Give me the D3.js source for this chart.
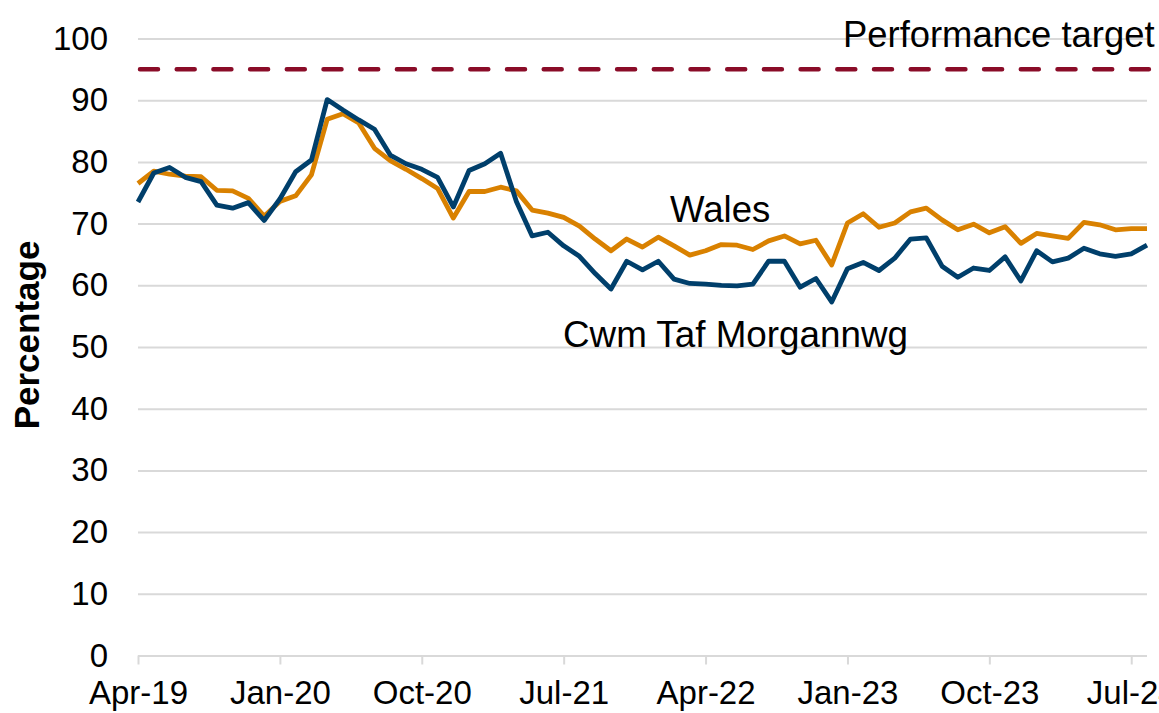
<!DOCTYPE html>
<html>
<head>
<meta charset="utf-8">
<script src="https://cdn.jsdelivr.net/npm/d3@7"></script>
<style>
  html, body { margin: 0; padding: 0; background: #fff; overflow: hidden; }
  svg { display: block; }
  text { font-family: "Liberation Sans", Arial, sans-serif; fill: #000; }
</style>
</head>
<body>
<svg id="chart" width="1159" height="713"></svg>
<script>
// ---- Data ----
const months = d3.timeMonth.range(new Date(2019, 3, 1), new Date(2024, 8, 1)).map(d3.timeFormat("%b-%y"));
const tickLabels = ["Apr-19", "Jan-20", "Oct-20", "Jul-21", "Apr-22", "Jan-23", "Oct-23", "Jul-24"];
const yTicks = [0, 10, 20, 30, 40, 50, 60, 70, 80, 90, 100];
const target = 95;
const cwmTafMorgannwg = [
  73.5, 78.2, 79.1, 77.5, 76.8, 73.0, 72.5, 73.4, 70.5, 74.0,
  78.4, 80.3, 90.1, 88.4, 86.8, 85.3, 81.1, 79.7, 78.8, 77.5,
  72.7, 78.6, 79.7, 81.4, 73.6, 68.0, 68.6, 66.4, 64.7, 61.9,
  59.4, 63.9, 62.5, 63.9, 61.0, 60.3, 60.2, 60.0, 59.9, 60.2,
  63.9, 63.9, 59.7, 61.1, 57.3, 62.7, 63.7, 62.4, 64.4, 67.5,
  67.7, 63.1, 61.3, 62.8, 62.4, 64.6, 60.7, 65.6, 63.8, 64.4,
  66.0, 65.1, 64.7, 65.1, 66.5
];
const wales = [
  76.5, 78.5, 78.0, 77.7, 77.6, 75.4, 75.3, 74.1, 71.2, 73.6,
  74.5, 77.9, 86.9, 87.8, 86.3, 82.2, 80.2, 78.8, 77.3, 75.7,
  70.9, 75.2, 75.2, 75.9, 75.3, 72.2, 71.7, 71.0, 69.6, 67.5,
  65.6, 67.5, 66.2, 67.8, 66.4, 64.9, 65.6, 66.6, 66.5, 65.8,
  67.2, 68.0, 66.7, 67.3, 63.3, 70.1, 71.6, 69.4, 70.1, 71.9,
  72.5, 70.6, 69.0, 69.9, 68.5, 69.5, 66.8, 68.4, 68.0, 67.6,
  70.2, 69.8, 69.0, 69.2, 69.2
];

// ---- Layout ----
const svg = d3.select("#chart");
const mLeft = 138, mRight = 1147, mTop = 38.5, mBottom = 655.5;

const x = d3.scalePoint().domain(months).range([mLeft, mRight]);
const y = d3.scaleLinear().domain([0, 100]).range([mBottom, mTop]);

// gridlines
const grid = svg.append("g").attr("transform", `translate(${mLeft},0)`)
  .call(d3.axisLeft(y).tickValues(yTicks.filter(v => v > 0)).tickSize(-(mRight - mLeft)).tickFormat(""));
grid.select(".domain").remove();
grid.selectAll("line").attr("stroke", "#d9d9d9").attr("stroke-width", 2);

// y labels
const yAxis = svg.append("g").attr("transform", `translate(${mLeft},0)`)
  .call(d3.axisLeft(y).tickValues(yTicks).tickSize(0).tickPadding(30));
yAxis.select(".domain").remove();
yAxis.selectAll("text").style("font-size", "33px").attr("fill", "#000");

// x axis
const xAxis = svg.append("g").attr("transform", `translate(0,${mBottom})`)
  .call(d3.axisBottom(x).tickValues(tickLabels).tickSize(9).tickPadding(16));
xAxis.select(".domain").attr("stroke", "#d9d9d9").attr("stroke-width", 2)
  .attr("d", `M${mLeft},0.5H${mRight}`);
xAxis.selectAll("line").attr("stroke", "#d9d9d9").attr("stroke-width", 2);
xAxis.selectAll("text").style("font-size", "33px").attr("fill", "#000");

// target line
svg.append("line")
  .attr("x1", mLeft).attr("x2", mRight)
  .attr("y1", y(target)).attr("y2", y(target))
  .attr("stroke", "#8a0c28").attr("stroke-width", 4.5)
  .attr("stroke-dasharray", "18,18.7").attr("stroke-linecap", "round")
  .attr("transform", "translate(2,0)");

// series lines
const line = d3.line().x((d, i) => x(months[i])).y(d => y(d));
svg.append("path").datum(wales).attr("d", line)
  .attr("fill", "none").attr("stroke", "#d98100").attr("stroke-width", 4.8).attr("stroke-linejoin", "round");
svg.append("path").datum(cwmTafMorgannwg).attr("d", line)
  .attr("fill", "none").attr("stroke", "#003f6b").attr("stroke-width", 4.8).attr("stroke-linejoin", "round");

// labels
svg.append("text").attr("x", 843).attr("y", 47).style("font-size", "36.4px").text("Performance target");
svg.append("text").attr("x", 670).attr("y", 222).style("font-size", "36.6px").text("Wales");
svg.append("text").attr("x", 563).attr("y", 347).style("font-size", "36.8px").text("Cwm Taf Morgannwg");

svg.append("text")
  .attr("transform", `translate(39,335) rotate(-90)`)
  .attr("text-anchor", "middle")
  .style("font-size", "35px").style("font-weight", "bold")
  .text("Percentage");
</script>
</body>
</html>
